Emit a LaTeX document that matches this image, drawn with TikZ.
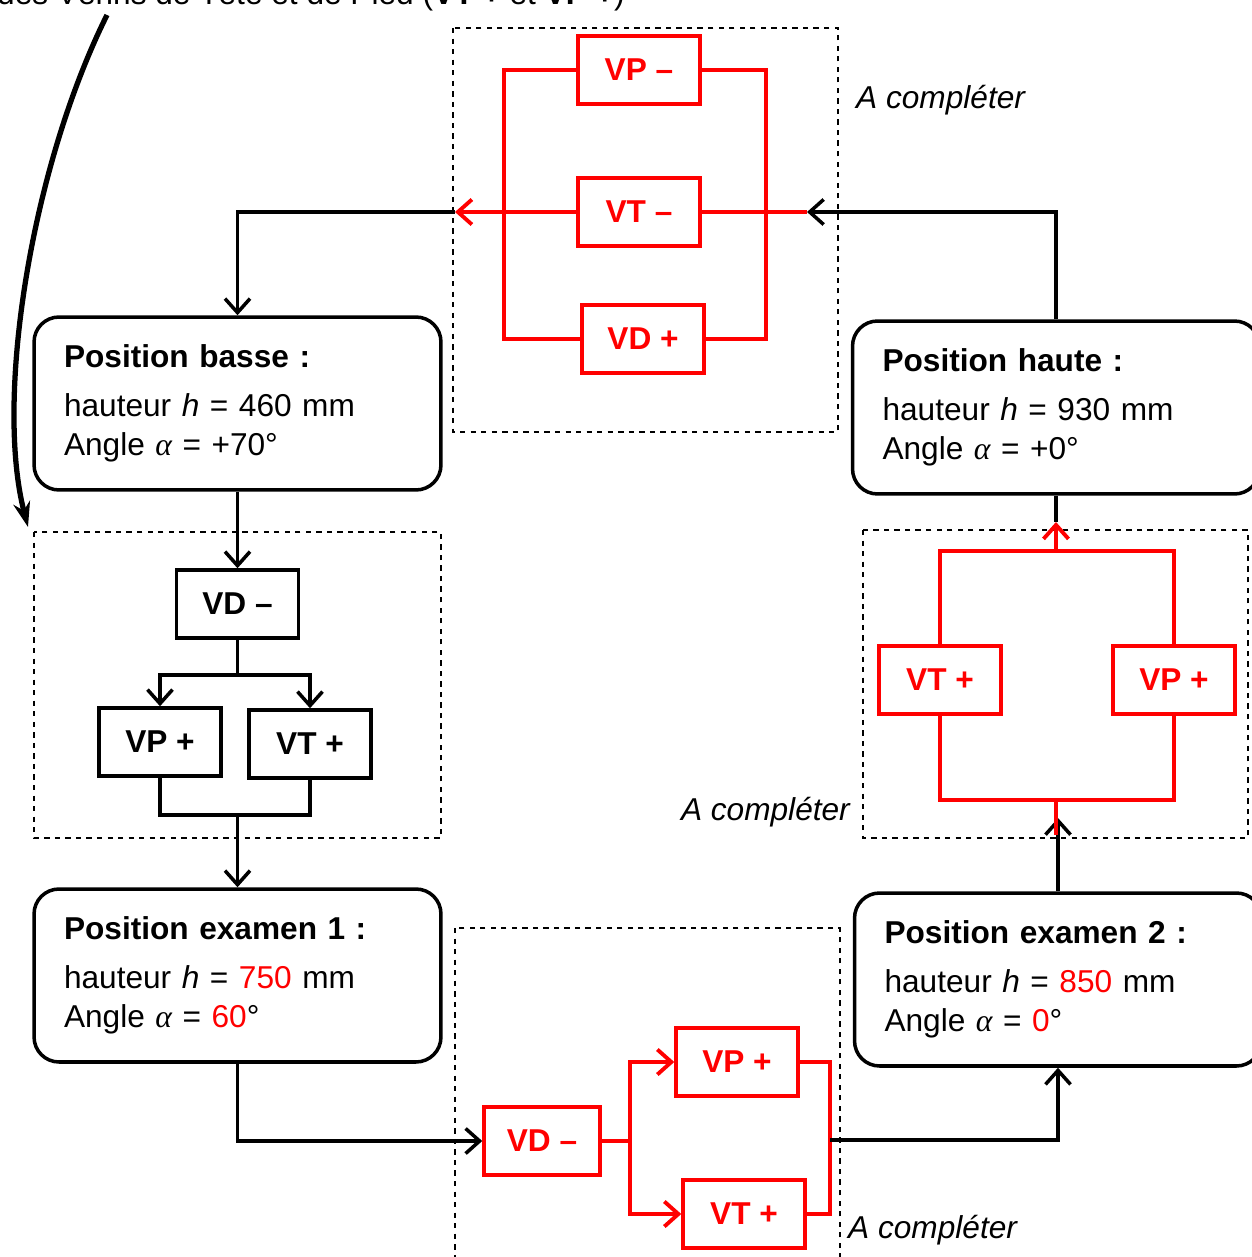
\documentclass[tikz,border=0pt]{standalone}
\usepackage{fontspec}
\setmainfont{Liberation Sans}
\newfontfamily\greekfont{Liberation Serif}
\newcommand{\alphatxt}{{\greekfont\itshape α}}
\usepackage{tikz}
\usetikzlibrary{arrows.meta,positioning,calc}

\begin{document}
\begin{tikzpicture}[
    x=0.02cm, y=-0.02cm,
    font=\fontsize{18}{22}\selectfont,
    state/.style={draw, line width=2pt, rounded corners=0.5cm, minimum width=8.14cm, minimum height=3.46cm, text width=6.94cm, inner xsep=0.6cm, align=left},
    act/.style={draw, line width=2pt, minimum width=2.44cm, minimum height=1.36cm, font=\fontsize{18}{22}\selectfont\bfseries},
    redact/.style={act, red},
    zone/.style={draw, dashed, line width=0.9pt},
    wire/.style={draw, line width=2pt},
    redwire/.style={draw, red, line width=2.2pt},
    flow/.style={wire, -{Straight Barb[length=0.28cm, width=0.5cm]}},
    redflow/.style={redwire, -{Straight Barb[length=0.28cm, width=0.5cm]}},
    note/.style={font=\fontsize{18}{22}\selectfont\itshape}
]
    \useasboundingbox (0,0) rectangle (1251,1257);

    % Zones
    \draw[zone] (453,28) rectangle (838,432);
    \draw[zone] (34,532) rectangle (441,838);
    \draw[zone] (863,530) rectangle (1248,838);
    \draw[zone] (455,928) rectangle (840,1275);

    % Nodes
    \node[anchor=base west] (title) at (-9,5) {des Vérins de Tête et de Pied (\textbf{VT +} et \textbf{VP +})};

    \node[state] (basse) at (237.5,403.5) {\textbf{Position basse :}\\[6pt]hauteur \textit{h} = 460 mm\\Angle \alphatxt{} = +70°};
    \node[state] (haute) at (1056,407.5) {\textbf{Position haute :}\\[6pt]hauteur \textit{h} = 930 mm\\Angle \alphatxt{} = +0°};
    \node[state] (exam1) at (237.5,975.5) {\textbf{Position examen 1 :}\\[6pt]hauteur \textit{h} = \textcolor{red}{750} mm\\Angle \alphatxt{} = \textcolor{red}{60}°};
    \node[state] (exam2) at (1058,979.5) {\textbf{Position examen 2 :}\\[6pt]hauteur \textit{h} = \textcolor{red}{850} mm\\Angle \alphatxt{} = \textcolor{red}{0}°};

    \node[redact] (vpm) at (639,70) {VP –};
    \node[redact] (vtm) at (639,212) {VT –};
    \node[redact] (vdp) at (643,339) {VD +};

    \node[act] (vdm1) at (237.5,604) {VD –};
    \node[act] (vpp1) at (160,742) {VP +};
    \node[act] (vtp1) at (310,744) {VT +};

    \node[redact, minimum width=2.32cm] (vdm2) at (542,1141) {VD –};
    \node[redact] (vpp2) at (737,1062) {VP +};
    \node[redact] (vtp2) at (744,1214) {VT +};

    \node[redact] (vtp3) at (940,680) {VT +};
    \node[redact] (vpp3) at (1174,680) {VP +};

    \node[note, anchor=west] (todo1) at (850,100) {A compléter};
    \node[note, anchor=east] (todo2) at (856,812) {A compléter};
    \node[note, anchor=west] (todo3) at (842,1230) {A compléter};

    \coordinate (inL) at (455,212);
    \coordinate (inR) at (807,212);
    \coordinate (splitL) at (237.5,675);
    \coordinate (joinL) at (237.5,815);
    \coordinate (joinB) at (830,1140);
    \coordinate (joinR) at (1056,800);
    \coordinate (splitR) at (1056,551);
    \coordinate (tipT) at (1056,522);
    \coordinate (tipB) at (1058,818);
    \coordinate (startC) at (107,15);
    \coordinate (endC) at (28,527);

    % Connections
    \path[redwire] (vpm.west) -- ++(-72,0) |- (vdp.west);
    \path[redwire] (vpm.east) -- ++(64,0) |- (vdp.east);
    \path[redflow] (vtm.west) -- (inL);
    \path[redwire] (vtm.east) -- (inR);
    \path[flow] (haute.north) |- (inR);
    \path[flow] (inL) -| (basse.north);

    \path[flow] (basse) -- (vdm1);
    \path[wire] (vdm1.south) -- (splitL);
    \path[flow] (splitL) -| (vpp1.north);
    \path[flow] (splitL) -| (vtp1.north);
    \path[wire] (vpp1.south) |- (joinL) -| (vtp1.south);
    \path[flow] (joinL) -- (exam1);

    \path[flow] (exam1.south) |- (vdm2.west);
    \path[redwire] (vdm2.east) -- ++(28,0) coordinate (splitB);
    \path[redflow] (splitB) |- (vpp2.west);
    \path[redflow] (splitB) |- (vtp2.west);
    \path[redwire] (vpp2.east) -| (joinB) |- (vtp2.east);
    \path[flow] (joinB) -| (exam2.south);

    \path[flow] (exam2.north) -- (tipB);
    \path[redwire] (joinR) -- ++(0,35);
    \path[redwire] (vtp3.south) |- (joinR) -| (vpp3.south);
    \path[redwire] (vtp3.north) |- (splitR) -| (vpp3.north);
    \path[wire] (haute.south) -- (tipT);
    \path[redflow] (splitR) -- (tipT);

    \draw[line width=3pt, -{Stealth[length=0.5cm, width=0.34cm]}] (startC) .. controls (30,170) and (-5,400) .. (endC);

\end{tikzpicture}
\end{document}
